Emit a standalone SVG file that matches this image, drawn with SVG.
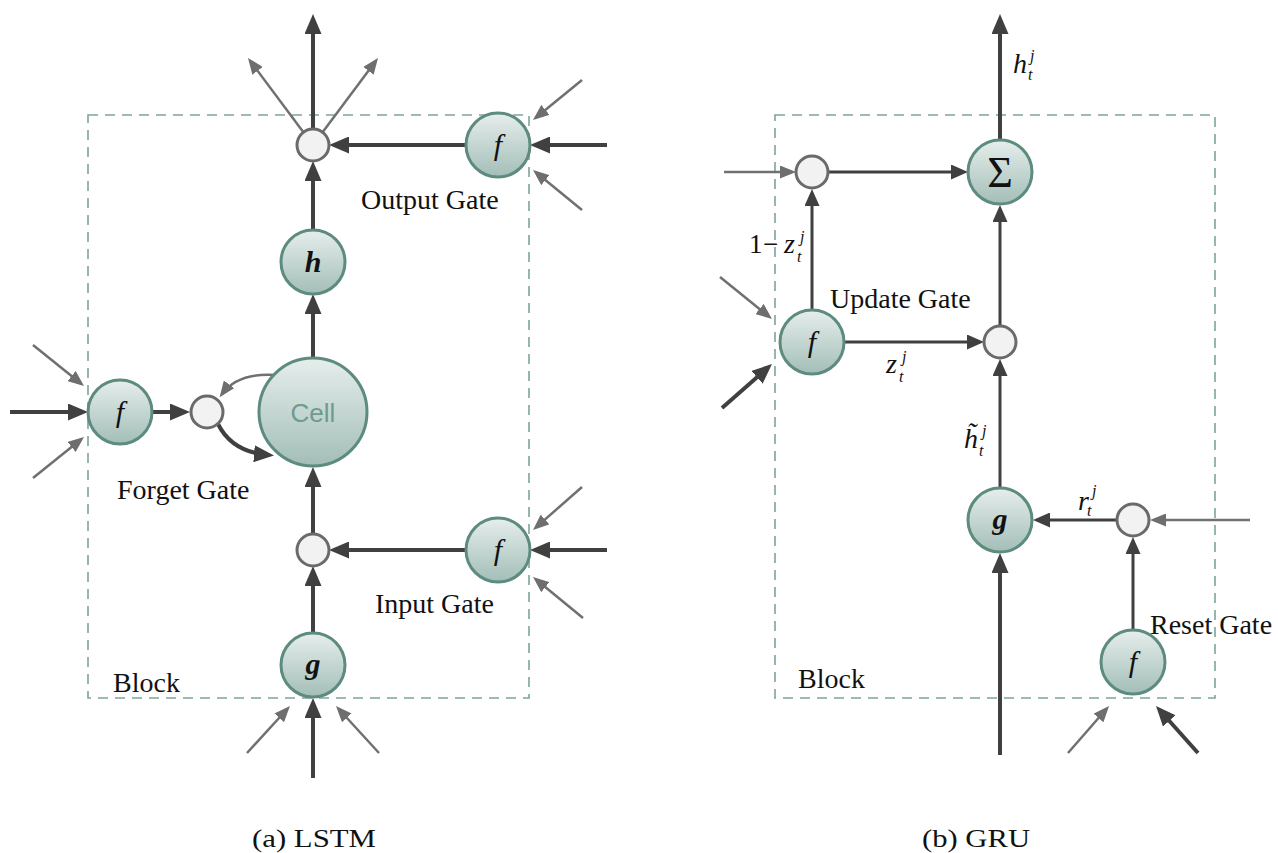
<svg xmlns="http://www.w3.org/2000/svg" width="1278" height="853" viewBox="0 0 1278 853">
<style>
.node{fill:url(#ng);stroke:#5d8b7f;stroke-width:3}
.mul{fill:#f2f2f2;stroke:#6a6a6a;stroke-width:3}
.box{fill:none;stroke:#7da59a;stroke-width:1.6;stroke-dasharray:10 7}
.dk{stroke:#404040;stroke-width:4;fill:none;marker-end:url(#adL)}
.dks{stroke:#404040;stroke-width:3;fill:none;marker-end:url(#adS)}
.gr{stroke:#707070;stroke-width:2.5;fill:none;marker-end:url(#ag)}
.lbl{font-family:"Liberation Serif",serif;font-size:28px;fill:#111}
.m{font-family:"Liberation Serif",serif;font-style:italic;font-size:28px;fill:#111}
.s{font-family:"Liberation Serif",serif;font-style:italic;font-size:16px;fill:#111}
.nl{font-family:"Liberation Serif",serif;font-style:italic;font-size:30px;fill:#111;text-anchor:middle}
.cap{font-family:"Liberation Serif",serif;font-size:25px;fill:#111}
</style>
<defs>
<linearGradient id="ng" x1="0" y1="0" x2="0" y2="1">
<stop offset="0" stop-color="#e6eeec"/>
<stop offset="1" stop-color="#a3beb7"/>
</linearGradient>
<marker id="adL" viewBox="0 0 20 17" markerWidth="20" markerHeight="17" refX="14" refY="8.5" orient="auto" markerUnits="userSpaceOnUse"><path d="M0,0 L20,8.5 L0,17 z" fill="#404040"/></marker>
<marker id="adS" viewBox="0 0 17 15" markerWidth="17" markerHeight="15" refX="12" refY="7.5" orient="auto" markerUnits="userSpaceOnUse"><path d="M0,0 L17,7.5 L0,15 z" fill="#404040"/></marker>
<marker id="ag" viewBox="0 0 16 13" markerWidth="16" markerHeight="13" refX="12" refY="6.5" orient="auto" markerUnits="userSpaceOnUse"><path d="M0,0 L16,6.5 L0,13 z" fill="#6e6e6e"/></marker>
</defs>
<rect width="1278" height="853" fill="#fff"/>

<g id="blocks">
<rect class="box" x="88" y="115" width="441" height="583"/>
<rect class="box" x="775" y="115" width="440" height="583"/>
<text class="lbl" x="113" y="692">Block</text>
<text class="lbl" x="798" y="688">Block</text>
</g>

<g id="connectors">
<!-- LSTM -->
<line class="dk" x1="313" y1="129" x2="313" y2="20"/>
<line class="gr" x1="304" y1="133" x2="250.4" y2="61.2"/>
<line class="gr" x1="322" y1="133" x2="375.6" y2="61.2"/>
<line class="dk" x1="466" y1="145" x2="335" y2="145"/>
<line class="dk" x1="607" y1="145" x2="536" y2="145"/>
<line class="gr" x1="582" y1="80" x2="536.1" y2="117.5"/>
<line class="gr" x1="582" y1="210" x2="536.1" y2="172.5"/>
<line class="dk" x1="313" y1="230" x2="313" y2="167"/>
<line class="dk" x1="313" y1="358" x2="313" y2="300"/>
<line class="dk" x1="10" y1="412" x2="82" y2="412"/>
<line class="gr" x1="33" y1="345" x2="80.9" y2="383.5"/>
<line class="gr" x1="33" y1="478" x2="80.9" y2="439.5"/>
<line class="dk" x1="152" y1="412" x2="184" y2="412"/>
<path class="gr" stroke-width="3" d="M277,375 Q238,372 222,394"/>
<path class="dk" d="M218,424 Q232,452 268,455"/>
<line class="dk" x1="313" y1="534" x2="313" y2="473"/>
<line class="dk" x1="466" y1="550" x2="335" y2="550"/>
<line class="dk" x1="607" y1="550" x2="536" y2="550"/>
<line class="gr" x1="582" y1="487" x2="536" y2="527.4"/>
<line class="gr" x1="583" y1="618" x2="536.1" y2="579.5"/>
<line class="dk" x1="313" y1="633" x2="313" y2="572"/>
<line class="dk" x1="313" y1="778" x2="313" y2="704"/>
<line class="gr" x1="247" y1="753" x2="287.3" y2="709"/>
<line class="gr" x1="379" y1="753" x2="338.7" y2="709"/>
<!-- GRU -->
<line class="dk" x1="1000" y1="140" x2="1000" y2="20"/>
<line class="gr" x1="724" y1="172" x2="792" y2="172"/>
<line class="dks" x1="828" y1="172" x2="963" y2="172"/>
<line class="dks" x1="812" y1="310" x2="812" y2="194"/>
<line class="dks" x1="844" y1="342" x2="979" y2="342"/>
<line class="dks" x1="1000" y1="326" x2="1000" y2="210"/>
<line class="dks" x1="1000" y1="488" x2="1000" y2="364"/>
<line class="dks" x1="1117" y1="520" x2="1038" y2="520"/>
<line class="gr" x1="1250" y1="520" x2="1154" y2="520"/>
<line class="dks" x1="1133" y1="630" x2="1133" y2="542"/>
<line class="dk" x1="1000" y1="755" x2="1000" y2="559"/>
<line class="gr" x1="720" y1="277" x2="768.9" y2="316.5"/>
<line class="dk" x1="722" y1="408" x2="767.5" y2="368"/>
<line class="gr" x1="1068" y1="753" x2="1106.4" y2="709"/>
<line class="dk" x1="1198" y1="753" x2="1160" y2="710.5"/>
</g>

<!-- LSTM nodes -->
<g id="lstm-out-mul"><circle class="mul" cx="313" cy="145" r="16"/></g>
<g id="lstm-output-gate"><circle class="node" cx="498" cy="145" r="32"/><text class="nl" x="498" y="155">f</text></g>
<g id="lstm-h"><circle class="node" cx="313" cy="262" r="32"/><text class="nl" x="313" y="272" font-weight="bold">h</text></g>
<g id="lstm-cell"><circle class="node" cx="313" cy="412" r="54"/><text x="313" y="422" text-anchor="middle" font-family="Liberation Sans, sans-serif" font-size="26" fill="#6f9a8f">Cell</text></g>
<g id="lstm-forget-gate"><circle class="node" cx="120" cy="412" r="32"/><text class="nl" x="120" y="422">f</text></g>
<g id="lstm-forget-mul"><circle class="mul" cx="207" cy="412" r="16"/></g>
<g id="lstm-in-mul"><circle class="mul" cx="313" cy="550" r="16"/></g>
<g id="lstm-input-gate"><circle class="node" cx="498" cy="550" r="32"/><text class="nl" x="498" y="560">f</text></g>
<g id="lstm-g"><circle class="node" cx="313" cy="665" r="32"/><text class="nl" x="313" y="674" font-weight="bold">g</text></g>

<g id="lstm-labels">
<text class="lbl" x="361" y="209">Output Gate</text>
<text class="lbl" x="117" y="499">Forget Gate</text>
<text class="lbl" x="375" y="613">Input Gate</text>
<text class="cap" x="252" y="847" textLength="124" lengthAdjust="spacingAndGlyphs">(a)  LSTM</text>
</g>

<!-- GRU nodes -->
<g id="gru-sum"><circle class="node" cx="1000" cy="172" r="32"/><text x="1000" y="187" text-anchor="middle" font-family="Liberation Serif, serif" font-size="44" fill="#111">Σ</text></g>
<g id="gru-top-mul"><circle class="mul" cx="812" cy="172" r="16"/></g>
<g id="gru-update-gate"><circle class="node" cx="812" cy="342" r="32"/><text class="nl" x="812" y="352">f</text></g>
<g id="gru-mid-mul"><circle class="mul" cx="1000" cy="342" r="16"/></g>
<g id="gru-g"><circle class="node" cx="1000" cy="520" r="32"/><text class="nl" x="1000" y="529" font-weight="bold">g</text></g>
<g id="gru-reset-mul"><circle class="mul" cx="1133" cy="520" r="16"/></g>
<g id="gru-reset-gate"><circle class="node" cx="1133" cy="662" r="32"/><text class="nl" x="1133" y="672">f</text></g>

<g id="gru-labels">
<text class="m" x="1013" y="73">h</text><text class="s" x="1030" y="61">j</text><text class="s" x="1028" y="80">t</text>
<text x="749" y="253" font-family="Liberation Serif, serif" font-size="27" fill="#111">1</text>
<text x="763" y="253" font-family="Liberation Serif, serif" font-size="27" fill="#111">−</text>
<text class="m" x="784" y="253">z</text><text class="s" x="800" y="242">j</text><text class="s" x="797" y="262">t</text>
<text class="m" x="886" y="373">z</text><text class="s" x="902" y="362">j</text><text class="s" x="899" y="382">t</text>
<text class="m" x="964" y="448">h̃</text><text class="s" x="982" y="436">j</text><text class="s" x="979" y="456">t</text>
<text class="m" x="1078" y="510">r</text><text class="s" x="1092" y="496">j</text><text class="s" x="1087" y="516">t</text>
<text class="lbl" x="830" y="308">Update Gate</text>
<text class="lbl" x="1150" y="634">Reset Gate</text>
<text class="cap" x="922" y="847" textLength="108" lengthAdjust="spacingAndGlyphs">(b) GRU</text>
</g>
</svg>
